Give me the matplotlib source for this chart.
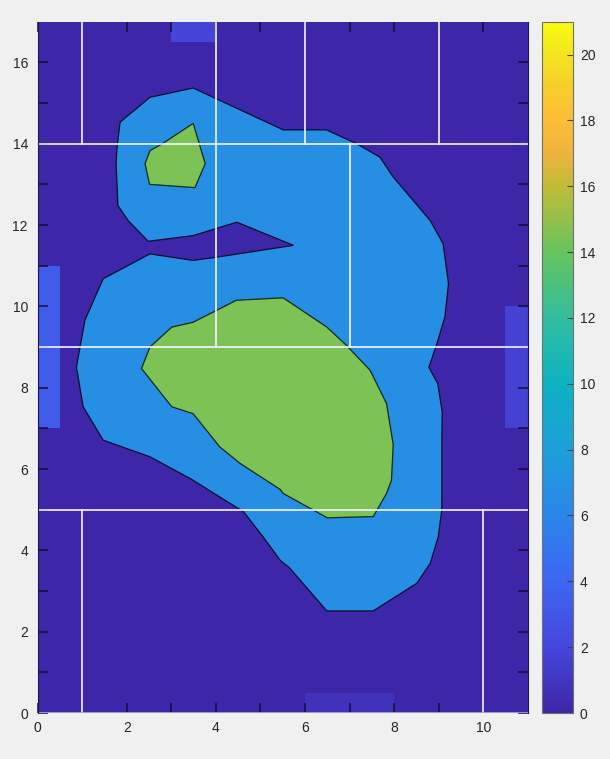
import matplotlib.pyplot as plt
from matplotlib.colors import LinearSegmentedColormap, Normalize
from matplotlib.cm import ScalarMappable
from matplotlib.patches import Rectangle

plt.rcParams['font.family'] = ['Liberation Sans', 'DejaVu Sans']

# floor size
x_max, y_max = 11, 17
c_max = 21

# parula-like colour map
cmap_pos = [0, 2, 4, 6, 8, 10, 12, 14, 16, 17, 18, 19, 20, 21]
cmap_hex = ['#3e26a8', '#4547dc', '#3d66f2', '#2b86ea', '#1e9fd9', '#0db2c3', '#31be9f',
            '#66c45e', '#c0bc38', '#eeb33b', '#fcbc38', '#f7cd2c', '#f4e41f', '#f9fb0e']

# value of each filled band: background, outer band, hot spots
band_levels = [0, 6.8, 14.5]

# outer band (C shape around the notch)
outer_x = [3.49, 5.51, 6.48, 7.16, 7.68, 7.98, 8.43, 8.81, 9.10, 9.22, 9.14, 8.96, 8.78, 8.98,
           9.08, 9.07, 9.07, 8.99, 8.81, 8.51, 7.53, 6.49, 5.66, 5.44, 5.06, 4.62, 4.09, 3.45,
           2.52, 1.47, 1.02, 0.87, 1.06, 1.47, 2.52, 3.49, 4.02, 5.74, 4.47, 3.49, 2.48, 2.03,
           1.80, 1.76, 1.78, 1.85, 2.52]
outer_y = [15.37, 14.34, 14.34, 14.00, 13.67, 13.18, 12.60, 12.11, 11.54, 10.56, 9.74, 9.08, 8.50, 8.10,
           7.40, 6.71, 4.99, 4.33, 3.68, 3.19, 2.51, 2.51, 3.56, 3.76, 4.33, 4.95, 5.31, 5.75,
           6.30, 6.71, 7.53, 8.51, 9.66, 10.68, 11.29, 11.13, 11.21, 11.50, 12.07, 11.74, 11.60, 12.11,
           12.48, 13.51, 13.91, 14.53, 15.14]

# small hot spot, upper left room
hot1_x = [3.49, 3.76, 3.53, 2.51, 2.41, 2.52, 2.80]
hot1_y = [14.50, 13.51, 12.92, 13.00, 13.51, 13.83, 14.00]

# big hot spot, middle room
hot2_x = [4.46, 5.51, 6.49, 6.93, 7.46, 7.83, 7.98, 7.94, 7.83, 7.53, 6.50, 5.51, 5.44, 4.54,
          4.09, 3.49, 3.01, 2.33, 2.52, 3.01, 3.49]
hot2_y = [10.15, 10.21, 9.49, 9.04, 8.43, 7.61, 6.60, 5.72, 5.40, 4.83, 4.80, 5.40, 5.50, 6.14,
          6.54, 7.36, 7.53, 8.47, 9.00, 9.49, 9.61]

# sources along the outer walls: x0, x1, y0, y1, value
cell_x0 = [0, 10.5, 3, 6]
cell_x1 = [0.5, 11, 4, 8]
cell_y0 = [7, 7, 16.5, 0]
cell_y1 = [11, 10, 17, 0.5]
cell_val = [3.2, 1.7, 1.9, 0.8]

# room walls: (x0, y0, x1, y1)
walls = [(0, 14, 11, 14), (0, 9, 11, 9), (0, 5, 11, 5),
         (1, 14, 1, 17), (4, 9, 4, 17), (6, 14, 6, 17), (9, 14, 9, 17),
         (7, 9, 7, 14), (1, 0, 1, 5), (10, 0, 10, 5)]

cmap = LinearSegmentedColormap.from_list(
    'parula', [(p / c_max, c) for p, c in zip(cmap_pos, cmap_hex)])
norm = Normalize(0, c_max)

fig = plt.figure(figsize=(6.10, 7.59), dpi=100, facecolor='#f0f0f0')
ax = fig.add_axes([0.0618, 0.0606, 0.8034, 0.9108])
ax.set_facecolor(cmap(norm(band_levels[0])))

for x0, x1, y0, y1, v in zip(cell_x0, cell_x1, cell_y0, cell_y1, cell_val):
    ax.add_patch(Rectangle((x0, y0), x1 - x0, y1 - y0, facecolor=cmap(norm(v)),
                           edgecolor='none', zorder=1))

ax.fill(outer_x, outer_y, facecolor=cmap(norm(band_levels[1])), edgecolor='#0d0d2a',
        linewidth=0.9, zorder=1)
for hx, hy in [(hot1_x, hot1_y), (hot2_x, hot2_y)]:
    ax.fill(hx, hy, facecolor=cmap(norm(band_levels[2])), edgecolor='#0d2a1a',
            linewidth=0.9, zorder=1)

for x0, y0, x1, y1 in walls:
    ax.plot([x0, x1], [y0, y1], color='#f6f4ff', linewidth=1.2, zorder=2)
ax.plot([0, x_max], [0, 0], color='#b4a8f0', linewidth=1.2, zorder=2)

ax.set_xlim(0, x_max)
ax.set_ylim(0, y_max)
ax.set_xticks(range(0, x_max, 2))
ax.set_yticks(range(0, y_max, 2))
ax.set_xticks(range(1, x_max, 2), minor=True)
ax.set_yticks(range(1, y_max, 2), minor=True)
ax.tick_params(which='both', direction='in', length=7, width=1.1, color='#140c3c',
               top=True, right=True, labelsize=10, labelcolor='#262626')
ax.tick_params(axis='x', pad=6)
ax.tick_params(axis='y', pad=7)
for side in ['left', 'right']:
    ax.spines[side].set_color('#1e1650')
    ax.spines[side].set_linewidth(0.8)
for side in ['top', 'bottom']:
    ax.spines[side].set_visible(False)

cax = fig.add_axes([0.8885, 0.0606, 0.0508, 0.9108])
cb = fig.colorbar(ScalarMappable(norm=norm, cmap=cmap), cax=cax)
cb.set_ticks(range(0, 21, 2))
cb.ax.tick_params(direction='in', length=4, width=0.8, color='#404040',
                  labelsize=10, labelcolor='#262626', pad=5)
cb.outline.set_edgecolor('#707070')
cb.outline.set_linewidth(0.8)

fig.savefig('out.png', dpi=100, facecolor=fig.get_facecolor())
